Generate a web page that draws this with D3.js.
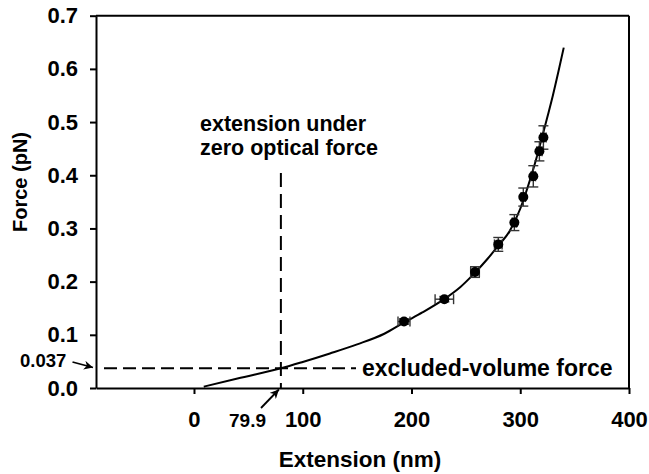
<!DOCTYPE html>
<html><head><meta charset="utf-8">
<script src="https://cdn.jsdelivr.net/npm/d3@7/dist/d3.min.js"></script>
<style>
body{margin:0;background:#fff;}
text{font-family:"Liberation Sans",Arial,Helvetica,sans-serif;}
</style></head>
<body><svg id="c" width="649" height="474"></svg>
<script>
// Data
const pointX   = [193.1, 230.2, 258.4, 279.8, 294.6, 302.8, 312.0, 317.6, 321.3];
const pointY   = [0.125, 0.167, 0.218, 0.270, 0.311, 0.359, 0.398, 0.445, 0.471];
const pointXErr= [5.5, 8.5, 4.0, 3.5, 2.0, 2.0, 2.0, 2.5, 2.5];
const pointYErr= [0.005, 0.005, 0.010, 0.013, 0.015, 0.017, 0.020, 0.018, 0.022];
const curveX = [9, 40, 80, 100, 125, 150, 175, 193, 210, 230, 245, 258, 270, 280, 290, 300, 305, 310, 315, 320, 325, 330, 335, 340];
const curveY = [0.0025, 0.018, 0.037, 0.049, 0.065, 0.082, 0.102, 0.123, 0.142, 0.167, 0.190, 0.216, 0.243, 0.268, 0.294, 0.337, 0.366, 0.398, 0.433, 0.471, 0.510, 0.550, 0.594, 0.640];
const xTicks = [0, 100, 200, 300, 400];
const yTicks = [0, 0.1, 0.2, 0.3, 0.4, 0.5, 0.6, 0.7];
const zeroForceExt = 79.9;
const excludedForce = 0.037;

const svg = d3.select("#c");
const x = d3.scaleLinear().domain([-90.1, 400]).range([96, 629]);
const y = d3.scaleLinear().domain([0, 0.7]).range([388, 15.7]);

const defs = svg.append("defs");
defs.append("marker").attr("id","ah").attr("viewBox","0 0 10 10").attr("refX",10).attr("refY",5)
  .attr("markerWidth",9).attr("markerHeight",9).attr("markerUnits","userSpaceOnUse").attr("orient","auto")
  .append("path").attr("d","M0,0 L10,5 L0,10 L3,5 Z").attr("fill","#000");

// frame (top & right)
svg.append("line").attr("x1",x(-90.1)).attr("x2",x(400)).attr("y1",y(0.7)).attr("y2",y(0.7)).attr("stroke","#000").attr("stroke-width",2);
svg.append("line").attr("x1",x(400)).attr("x2",x(400)).attr("y1",y(0.7)).attr("y2",y(0)).attr("stroke","#000").attr("stroke-width",2);

// axes
const gx = svg.append("g").attr("transform",`translate(0,${y(0)})`)
  .call(d3.axisBottom(x).tickValues(xTicks).tickSize(6).tickSizeOuter(0).tickPadding(17).tickFormat(d3.format("d")));
const gy = svg.append("g").attr("transform",`translate(${x(-90.1)},0)`)
  .call(d3.axisLeft(y).tickValues(yTicks).tickSize(6).tickSizeOuter(0).tickPadding(12).tickFormat(d3.format(".1f")));
[gx,gy].forEach(g=>{
  g.select(".domain").attr("stroke","#000").attr("stroke-width",2);
  g.selectAll(".tick line").attr("stroke","#000").attr("stroke-width",2);
  g.selectAll(".tick text").attr("fill","#000").style("font-size","22px").style("font-weight","bold");
});

// axis titles
svg.append("text").attr("x",360).attr("y",467).attr("text-anchor","middle")
  .style("font-size","22.5px").style("font-weight","bold").text("Extension (nm)");
svg.append("text").attr("transform","translate(26.5,182) rotate(-90)").attr("text-anchor","middle")
  .style("font-size","20px").style("font-weight","bold").text("Force (pN)");

// dashed guides
svg.append("line").attr("x1",x(zeroForceExt)).attr("x2",x(zeroForceExt)).attr("y1",173).attr("y2",y(0))
  .attr("stroke","#000").attr("stroke-width",2).attr("stroke-dasharray","14,7");
svg.append("line").attr("x1",104).attr("x2",356).attr("y1",y(excludedForce)).attr("y2",y(excludedForce))
  .attr("stroke","#000").attr("stroke-width",2).attr("stroke-dasharray","13,6");

// curve
const pts = curveX.map((d,i)=>[d,curveY[i]]);
svg.append("path").datum(pts).attr("fill","none").attr("stroke","#000").attr("stroke-width",2)
  .attr("d", d3.line().x(d=>x(d[0])).y(d=>y(d[1])).curve(d3.curveMonotoneX));

// error bars and points
const pd = pointX.map((d,i)=>({x:d,y:pointY[i],ex:pointXErr[i],ey:pointYErr[i]}));
const eg = svg.append("g").attr("stroke","#333").attr("stroke-width",1.4);
pd.forEach(p=>{
  const cx=x(p.x), cy=y(p.y);
  const y1=y(p.y+p.ey), y2=y(p.y-p.ey), x1=x(p.x-p.ex), x2=x(p.x+p.ex);
  eg.append("line").attr("x1",cx).attr("x2",cx).attr("y1",y1).attr("y2",y2);
  eg.append("line").attr("x1",cx-5).attr("x2",cx+5).attr("y1",y1).attr("y2",y1);
  eg.append("line").attr("x1",cx-5).attr("x2",cx+5).attr("y1",y2).attr("y2",y2);
  eg.append("line").attr("x1",x1).attr("x2",x2).attr("y1",cy).attr("y2",cy);
  eg.append("line").attr("x1",x1).attr("x2",x1).attr("y1",cy-5).attr("y2",cy+5);
  eg.append("line").attr("x1",x2).attr("x2",x2).attr("y1",cy-5).attr("y2",cy+5);
});
svg.append("g").selectAll("circle").data(pd).join("circle")
  .attr("cx",d=>x(d.x)).attr("cy",d=>y(d.y)).attr("r",5).attr("fill","#000");

// annotations
const ann = svg.append("g").style("font-weight","bold").attr("fill","#000");
ann.append("text").attr("x",200).attr("y",131).style("font-size","21.5px").text("extension under");
ann.append("text").attr("x",200).attr("y",155).style("font-size","21.5px").text("zero optical force");
ann.append("text").attr("x",362).attr("y",376).style("font-size","23px").text("excluded-volume force");
ann.append("text").attr("x",20).attr("y",367).style("font-size","18.5px").text("0.037");
ann.append("text").attr("x",229).attr("y",427).style("font-size","19px").text("79.9");

svg.append("line").attr("x1",72.5).attr("y1",362).attr("x2",93).attr("y2",367.5)
  .attr("stroke","#000").attr("stroke-width",1.8).attr("marker-end","url(#ah)");
svg.append("line").attr("x1",261).attr("y1",408).attr("x2",x(zeroForceExt)-2).attr("y2",389.5)
  .attr("stroke","#000").attr("stroke-width",1.8).attr("marker-end","url(#ah)");
</script></body></html>
